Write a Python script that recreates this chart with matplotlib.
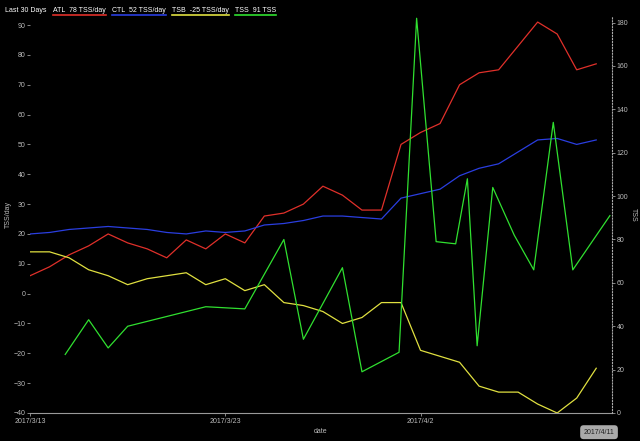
import matplotlib.pyplot as plt
import matplotlib.dates as mdates
import pandas as pd

plt.rcParams['font.family'] = ['Liberation Sans', 'DejaVu Sans']

dates = pd.date_range('2017-03-13', periods=30, freq='D')

atl = [6, 9, 13, 16, 20, 17, 15, 12, 18, 15, 20, 17, 26, 27, 30, 36, 33, 28, 28, 50,
       54, 57, 70, 74, 75, 83, 91, 87, 75, 77]
ctl = [20, 20.5, 21.5, 22, 22.5, 22, 21.5, 20.5, 20, 21, 20.5, 21, 23, 23.5, 24.5, 26, 26, 25.5, 25, 32,
       33.5, 35, 39.5, 42, 43.5, 47.5, 51.5, 52, 50, 51.5]
tsb = [14, 14, 12, 8, 6, 3, 5, 6, 7, 3, 5, 1, 3, -3, -4, -6, -10, -8, -3, -3,
       -19, -21, -23, -31, -33, -33, -37, -40, -35, -25]

# TSS per workout: (days after 3/13, TSS)
tss_day = [1.8, 3.0, 4.0, 5.0, 9.0, 11.0, 13.0, 14.0, 16.0, 17.0, 18.9, 19.8,
           20.8, 21.8, 22.4, 22.9, 23.7, 24.8, 25.8, 26.8, 27.8, 29.7]
tss_val = [27, 43, 30, 40, 49, 48, 80, 34, 67, 19, 28, 182,
           79, 78, 108, 31, 104, 82, 66, 134, 66, 91]
tss_dates = [dates[0] + pd.Timedelta(days=d) for d in tss_day]

fs = 5
fig = plt.figure(figsize=(6.4, 4.41), dpi=100, facecolor='black')
ax = fig.add_axes([0.047, 0.0635, 0.909, 0.9])
ax2 = ax.twinx()
for a in (ax, ax2):
    a.set_facecolor('none')
    for s in a.spines.values():
        s.set_visible(False)
    a.tick_params(colors='#bbbbbb', labelsize=fs, length=2, width=0.5, pad=1.5)
ax.set_facecolor('black')
ax.spines['bottom'].set_visible(True)
ax.spines['bottom'].set_color('#999999')
ax2.spines['right'].set_visible(True)
ax2.spines['right'].set_color('#aaaaaa')
ax2.spines['right'].set_linestyle(':')

ax.plot(dates, atl, color='#e0302a', lw=0.9)
ax.plot(dates, ctl, color='#2a3ee0', lw=0.9)
ax.plot(dates, tsb, color='#e0e040', lw=0.9)
ax2.plot(tss_dates, tss_val, color='#30e030', lw=0.9)

ax.set_ylim(-40, 93)
ax.set_yticks(range(-40, 91, 10))
ax2.set_ylim(0, 183)
ax2.set_yticks(range(0, 181, 20))
ax.set_xlim(dates[0], dates[0] + pd.Timedelta(days=29.8))
ax.set_xticks([dates[0], dates[10], dates[20]])
ax.xaxis.set_major_formatter(mdates.DateFormatter('%Y/%-m/%-d'))
ax.set_xlabel('date', color='#bbbbbb', fontsize=fs, labelpad=2)
ax.set_ylabel('TSS/day', color='#bbbbbb', fontsize=fs, labelpad=1)
ax2.set_ylabel('TSS', color='#bbbbbb', fontsize=fs, rotation=270, labelpad=6)

fig.text(0.96, 0.020, '2017/4/11', color='#222222', fontsize=fs, ha='right', va='center',
         bbox=dict(boxstyle='round,pad=0.5', fc='#aaaaaa', ec='none'))

fig.text(0.008, 0.985, 'Last 30 Days', color='white', fontsize=fs, va='top')
legend = [('ATL  78 TSS/day', '#e0302a', 0.083), ('CTL  52 TSS/day', '#2a3ee0', 0.175),
          ('TSB  -25 TSS/day', '#e0e040', 0.269), ('TSS  91 TSS', '#30e030', 0.367)]
for label, col, x in legend:
    t = fig.text(x, 0.985, label, color='white', fontsize=fs, va='top')
    fig.canvas.draw()
    bb = t.get_window_extent().transformed(fig.transFigure.inverted())
    fig.add_artist(plt.Line2D([bb.x0, bb.x1], [bb.y0 - 0.004, bb.y0 - 0.004], color=col, lw=1.2,
                              transform=fig.transFigure))

fig.savefig('out.png', dpi=100, facecolor='black')
